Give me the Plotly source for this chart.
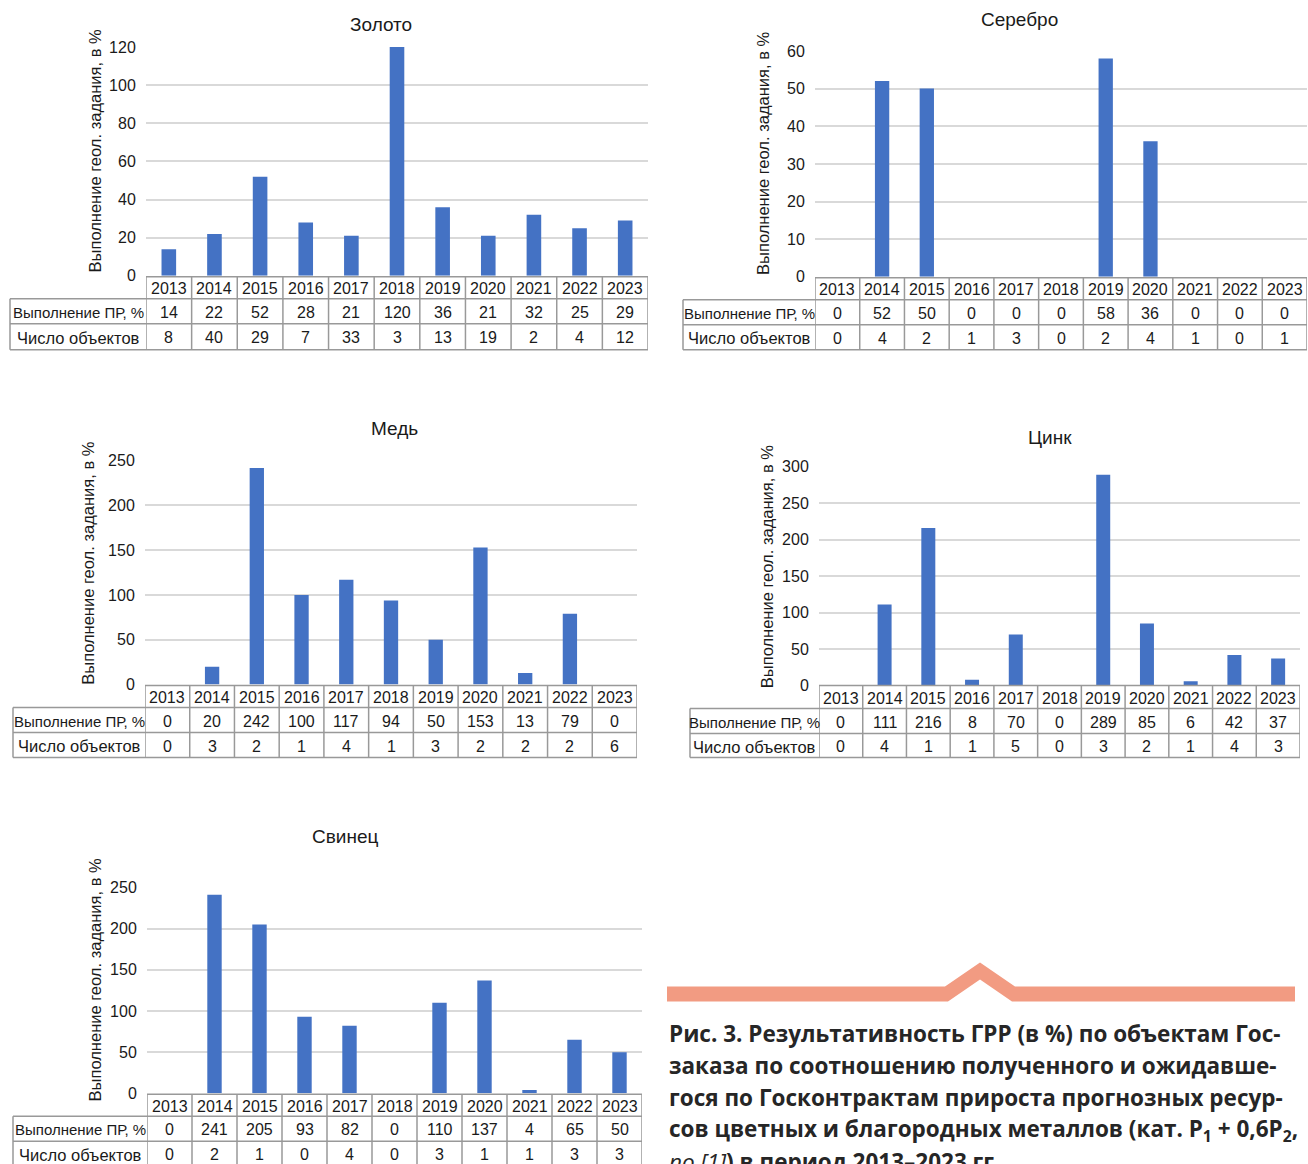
import plotly.graph_objects as go

W, H = 1308, 1164

years = ["2013", "2014", "2015", "2016", "2017", "2018", "2019", "2020", "2021", "2022", "2023"]
row_labels = ["Выполнение ПР, %", "Число объектов"]
y_title = "Выполнение геол. задания, в %"

gold_pr = [14, 22, 52, 28, 21, 120, 36, 21, 32, 25, 29]
gold_n = [8, 40, 29, 7, 33, 3, 13, 19, 2, 4, 12]

silver_pr = [0, 52, 50, 0, 0, 0, 58, 36, 0, 0, 0]
silver_n = [0, 4, 2, 1, 3, 0, 2, 4, 1, 0, 1]

copper_pr = [0, 20, 242, 100, 117, 94, 50, 153, 13, 79, 0]
copper_n = [0, 3, 2, 1, 4, 1, 3, 2, 2, 2, 6]

zinc_pr = [0, 111, 216, 8, 70, 0, 289, 85, 6, 42, 37]
zinc_n = [0, 4, 1, 1, 5, 0, 3, 2, 1, 4, 3]

lead_pr = [0, 241, 205, 93, 82, 0, 110, 137, 4, 65, 50]
lead_n = [0, 2, 1, 0, 4, 0, 3, 1, 1, 3, 3]

caption_lines = [
    "Рис. 3. Результативность ГРР (в %) по объектам Гос-",
    "заказа по соотношению полученного и ожидавше-",
    "гося по Госконтрактам прироста прогнозных ресур-",
    "сов цветных и благородных металлов (кат. P<sub>1</sub> + 0,6P<sub>2</sub>,",
    "<span style='font-weight:normal'><i>по [1]</i></span>) в период 2013–2023 гг.",
]

# Panel geometry in page pixels: plot left/right, y of zero and of the top
# gridline, table label column left edge, table row edges, title and
# axis-title anchors.
panels = [
    dict(name="Золото", pr=gold_pr, n=gold_n, ymax=120, dtick=20,
         x0=146, x1=648, yz=276, yt=47, lab=10, rows=[277, 299, 324, 350],
         title=(381, 25), ytx=95),
    dict(name="Серебро", pr=silver_pr, n=silver_n, ymax=60, dtick=10,
         x0=815, x1=1307, yz=277, yt=51, lab=683, rows=[278, 300, 325, 350],
         title=(1019, 20), ytx=763),
    dict(name="Медь", pr=copper_pr, n=copper_n, ymax=250, dtick=50,
         x0=145, x1=637, yz=685, yt=461, lab=13, rows=[686, 708, 733, 758],
         title=(394, 429), ytx=88),
    dict(name="Цинк", pr=zinc_pr, n=zinc_n, ymax=300, dtick=50,
         x0=819, x1=1300, yz=686, yt=467, lab=690, rows=[686, 709, 734, 758],
         title=(1050, 438), ytx=767),
    dict(name="Свинец", pr=lead_pr, n=lead_n, ymax=250, dtick=50,
         x0=147, x1=642, yz=1094, yt=888, lab=13, rows=[1095, 1117, 1142, 1167],
         title=(345, 837), ytx=95),
]

FONT = "Liberation Sans, Arial, sans-serif"
TXT = "#1a1a1a"
BAR = "#4472C4"
GRID = "#d9d9d9"
LINE = "#999999"

# vertical placement correction for the page as it is captured
Y_OFF, Y_SCALE = 8.0, 0.986


def px(x):
    return x / W


def py(y):
    return 1 - ((y - Y_OFF) / Y_SCALE) / H


fig = go.Figure()
shapes = []
annotations = []
layout_axes = {}

for i, p in enumerate(panels, start=1):
    xa = "x" if i == 1 else f"x{i}"
    ya = "y" if i == 1 else f"y{i}"
    fig.add_trace(go.Bar(
        x=years, y=p["pr"], xaxis=xa, yaxis=ya,
        marker=dict(color=BAR, line=dict(width=0)),
        width=0.32, hoverinfo="skip", showlegend=False,
    ))
    layout_axes["xaxis" if i == 1 else f"xaxis{i}"] = dict(
        domain=[px(p["x0"]), px(p["x1"])], anchor=ya, type="category",
        range=[-0.5, 10.5], showticklabels=False, showgrid=False,
        zeroline=False, showline=False, fixedrange=True,
    )
    layout_axes["yaxis" if i == 1 else f"yaxis{i}"] = dict(
        domain=[py(p["yz"]), py(p["yt"])], anchor=xa,
        range=[0, p["ymax"]], dtick=p["dtick"], showgrid=True,
        gridcolor=GRID, gridwidth=1.5, zeroline=False, showline=False,
        ticks="outside", ticklen=6, tickcolor="rgba(0,0,0,0)",
        tickfont=dict(family=FONT, size=16, color=TXT), fixedrange=True,
    )

    r0, r1, r2, r3 = p["rows"]
    # table rules
    for yy, left in ((r0, p["x0"]), (r1, p["lab"]), (r2, p["lab"]), (r3, p["lab"])):
        shapes.append(dict(type="line", xref="paper", yref="paper",
                           x0=px(left), x1=px(p["x1"]), y0=py(yy), y1=py(yy),
                           line=dict(color=LINE, width=1.5)))
    for k in range(len(years) + 1):
        shapes.append(dict(type="line", xref=xa, yref="paper",
                           x0=k - 0.5, x1=k - 0.5, y0=py(r0), y1=py(r3),
                           line=dict(color=LINE, width=1.5)))
    shapes.append(dict(type="line", xref="paper", yref="paper",
                       x0=px(p["lab"]), x1=px(p["lab"]), y0=py(r1), y1=py(r3),
                       line=dict(color=LINE, width=1.5)))

    # table text, one column per category of the bar axis
    for j, yr in enumerate(years):
        for text, top, bot in ((yr, r0, r1), (str(p["pr"][j]), r1, r2), (str(p["n"][j]), r2, r3)):
            annotations.append(dict(
                xref=xa, yref="paper", x=j, y=py((top + bot) / 2 + 1),
                text=text, showarrow=False, xanchor="center", yanchor="middle",
                font=dict(family=FONT, size=16, color=TXT),
            ))
    for text, size, top, bot in ((row_labels[0], 15, r1, r2), (row_labels[1], 16.5, r2, r3)):
        annotations.append(dict(
            xref="paper", yref="paper", x=px((p["lab"] + p["x0"]) / 2),
            y=py((top + bot) / 2 + 1), text=text, showarrow=False,
            xanchor="center", yanchor="middle",
            font=dict(family=FONT, size=size, color=TXT),
        ))

    # chart title and value-axis title
    annotations.append(dict(
        xref="paper", yref="paper", x=px(p["title"][0]), y=py(p["title"][1]),
        text=p["name"], showarrow=False, xanchor="center", yanchor="middle",
        font=dict(family=FONT, size=19, color=TXT),
    ))
    annotations.append(dict(
        xref="paper", yref="paper", x=px(p["ytx"]), y=py((p["yz"] + p["yt"]) / 2 - 10),
        text=y_title, showarrow=False, textangle=-90,
        xanchor="center", yanchor="middle",
        font=dict(family=FONT, size=16.5, color=TXT),
    ))

# decorative salmon band with a chevron above the caption
band = [(667, 987), (945, 987), (980, 963), (1015, 987), (1295, 987),
        (1295, 1002), (1012, 1002), (980, 980), (948, 1002), (667, 1002)]
path = "M " + " L ".join(f"{px(x):.5f},{py(y):.5f}" for x, y in band) + " Z"
shapes.append(dict(type="path", xref="paper", yref="paper", path=path,
                   fillcolor="#F29B82", line=dict(width=0)))

cap_y = [1034, 1066, 1098, 1131, 1162]
for text, yy in zip(caption_lines, cap_y):
    annotations.append(dict(
        xref="paper", yref="paper", x=px(667), y=py(yy), text=text,
        showarrow=False, xanchor="left", yanchor="middle",
        font=dict(family="Open Sans, sans-serif",
                  size=22.5, color="#262626", weight="bold"),
    ))

fig.update_layout(
    width=W, height=H, margin=dict(l=0, r=0, t=0, b=0),
    paper_bgcolor="white", plot_bgcolor="white",
    bargap=0.68, showlegend=False,
    shapes=shapes, annotations=annotations,
    **layout_axes,
)

fig.write_html("out.html")
